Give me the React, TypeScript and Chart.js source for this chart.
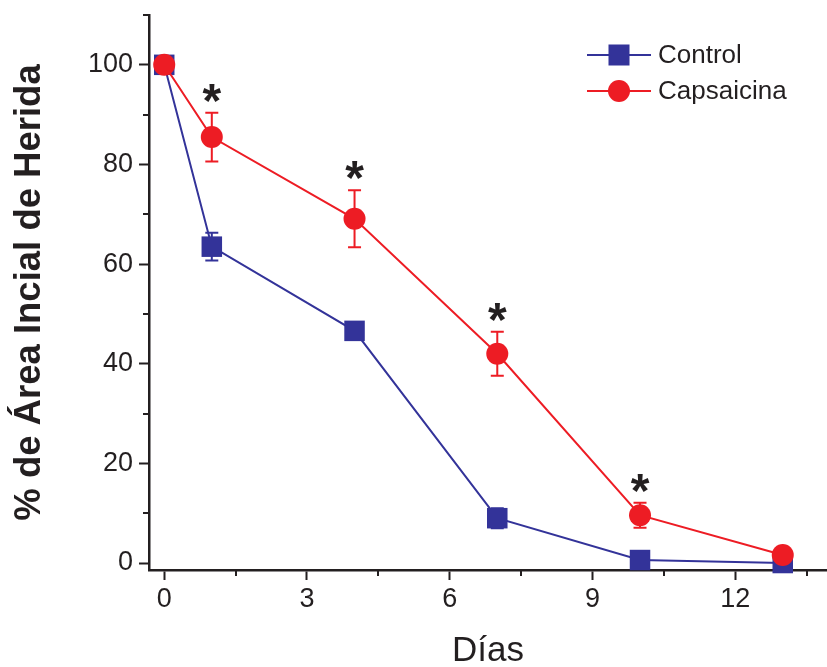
import React, { useEffect, useRef } from 'react';
import { Chart, registerables } from 'chart.js';

Chart.register(...registerables);

// ---- data ----
const days = [0, 1, 4, 7, 10, 13];
const controlValues = [100, 63.5, 46.6, 9.0, 0.6, 0];
const controlErrors = [0, 2.8, 1.2, 2.0, 0.6, 0.3];
const capsaicinaValues = [100, 85.5, 69.1, 42.0, 9.6, 1.6];
const capsaicinaErrors = [0, 4.9, 5.7, 4.4, 2.5, 0.6];
const significant = [false, true, true, true, true, false];
const xMajorTicks = [0, 3, 6, 9, 12];
const xMinorTicks = [1.5, 4.5, 7.5, 10.5, 13.5];
const yMajorTicks = [0, 20, 40, 60, 80, 100];
const yMinorTicks = [10, 30, 50, 70, 90, 110];
const seriesNames = ['Control', 'Capsaicina'];

const BLUE = '#333399';
const RED = '#ED1C24';
const INK = '#231F20';
const FONT = "'Liberation Sans', Arial, sans-serif";

const errorBarPlugin = {
  id: 'errorBars',
  beforeDatasetsDraw(chart: any) {
    const ctx = chart.ctx;
    const xs = chart.scales.x;
    const ys = chart.scales.y;
    const sets = [
      { vals: controlValues, errs: controlErrors, color: BLUE },
      { vals: capsaicinaValues, errs: capsaicinaErrors, color: RED },
    ];
    ctx.save();
    ctx.lineWidth = 2;
    sets.forEach((s) => {
      ctx.strokeStyle = s.color;
      days.forEach((d, i) => {
        const e = s.errs[i];
        if (!e) return;
        const x = xs.getPixelForValue(d);
        const yt = ys.getPixelForValue(s.vals[i] + e);
        const yb = ys.getPixelForValue(s.vals[i] - e);
        ctx.beginPath();
        ctx.moveTo(x, yt);
        ctx.lineTo(x, yb);
        ctx.moveTo(x - 6.5, yt);
        ctx.lineTo(x + 6.5, yt);
        ctx.moveTo(x - 6.5, yb);
        ctx.lineTo(x + 6.5, yb);
        ctx.stroke();
      });
    });
    ctx.restore();
  },
  afterDatasetsDraw(chart: any) {
    const ctx = chart.ctx;
    const xs = chart.scales.x;
    const ys = chart.scales.y;
    ctx.save();
    ctx.fillStyle = INK;
    ctx.font = `bold 48px ${FONT}`;
    ctx.textAlign = 'center';
    ctx.textBaseline = 'alphabetic';
    const m = ctx.measureText('*');
    const asc = m.actualBoundingBoxAscent;
    const desc = m.actualBoundingBoxDescent;
    days.forEach((d, i) => {
      if (!significant[i]) return;
      const x = xs.getPixelForValue(d);
      const top = ys.getPixelForValue(capsaicinaValues[i] + capsaicinaErrors[i]);
      const cy = top - 20;
      const baseline = cy + (asc - desc) / 2;
      ctx.fillText('*', x, baseline);
    });
    ctx.restore();
  },
  afterDraw(chart: any) {
    const ctx = chart.ctx;
    const xs = chart.scales.x;
    const ys = chart.scales.y;
    const area = chart.chartArea;
    ctx.save();
    // minor ticks
    ctx.strokeStyle = INK;
    ctx.lineWidth = 2;
    ctx.beginPath();
    yMinorTicks.forEach((v) => {
      const y = Math.round(ys.getPixelForValue(v));
      ctx.moveTo(area.left - 6, y);
      ctx.lineTo(area.left, y);
    });
    xMinorTicks.forEach((v) => {
      const x = Math.round(xs.getPixelForValue(v));
      ctx.moveTo(x, area.bottom);
      ctx.lineTo(x, area.bottom + 6);
    });
    ctx.stroke();

    // legend
    const lx1 = area.right - 240;
    const lx2 = area.right - 176;
    const mx = area.right - 208;
    const tx = area.right - 169;
    const rows = [
      { y: area.top + 40, color: BLUE, shape: 'rect' },
      { y: area.top + 76, color: RED, shape: 'circle' },
    ];
    rows.forEach((r, i) => {
      ctx.strokeStyle = r.color;
      ctx.lineWidth = 2;
      ctx.beginPath();
      ctx.moveTo(lx1, r.y);
      ctx.lineTo(lx2, r.y);
      ctx.stroke();
      ctx.fillStyle = r.color;
      if (r.shape === 'rect') {
        ctx.fillRect(mx - 10.5, r.y - 10.5, 21, 21);
      } else {
        ctx.beginPath();
        ctx.arc(mx, r.y, 11, 0, Math.PI * 2);
        ctx.fill();
      }
      ctx.fillStyle = INK;
      ctx.font = `26px ${FONT}`;
      ctx.textAlign = 'left';
      ctx.textBaseline = 'middle';
      ctx.fillText(seriesNames[i], tx, r.y + 1);
    });
    ctx.restore();
  },
};

const zeroPadding = (s: any) => {
  s.paddingTop = 0;
  s.paddingBottom = 0;
  s.paddingLeft = 0;
  s.paddingRight = 0;
};

export default function App() {
  const ref = useRef<HTMLCanvasElement | null>(null);

  useEffect(() => {
    if (!ref.current) return;
    const chart = new Chart(ref.current, {
      type: 'line',
      data: {
        datasets: [
          {
            label: seriesNames[0],
            data: days.map((d, i) => ({ x: d, y: controlValues[i] })),
            borderColor: BLUE,
            backgroundColor: BLUE,
            borderWidth: 2,
            pointStyle: 'rect',
            pointRadius: 14.5,
            pointBorderWidth: 0,
            pointBackgroundColor: BLUE,
            clip: false,
            order: 1,
          },
          {
            label: seriesNames[1],
            data: days.map((d, i) => ({ x: d, y: capsaicinaValues[i] })),
            borderColor: RED,
            backgroundColor: RED,
            borderWidth: 2,
            pointStyle: 'circle',
            pointRadius: 11,
            pointBorderWidth: 0,
            pointBackgroundColor: RED,
            clip: false,
            order: 0,
          },
        ],
      },
      options: {
        animation: false,
        responsive: false,
        layout: { autoPadding: false, padding: { top: 15, right: 0, left: 0, bottom: 0 } },
        plugins: {
          legend: { display: false },
          tooltip: { enabled: false },
        },
        scales: {
          x: {
            type: 'linear',
            min: -0.32,
            max: 13.93,
            afterBuildTicks: (s: any) => {
              s.ticks = xMajorTicks.map((v) => ({ value: v }));
            },
            afterFit: (s: any) => {
              s.height = 97;
              zeroPadding(s);
            },
            grid: {
              drawOnChartArea: false,
              drawTicks: true,
              tickLength: 10,
              tickWidth: 2,
              tickColor: INK,
            },
            border: { display: true, color: INK, width: 2.5 },
            ticks: {
              color: INK,
              font: { family: FONT, size: 27, lineHeight: 1 },
              padding: 6,
              maxRotation: 0,
              callback: (v: any) => String(v),
            },
            title: {
              display: true,
              text: 'Días',
              color: INK,
              font: { family: FONT, size: 35, lineHeight: 0.9 },
              padding: { top: 0, bottom: 0 },
            },
          },
          y: {
            type: 'linear',
            min: -1.4,
            max: 110,
            afterBuildTicks: (s: any) => {
              s.ticks = yMajorTicks.map((v) => ({ value: v }));
            },
            afterFit: (s: any) => {
              s.width = 149;
              zeroPadding(s);
            },
            grid: {
              drawOnChartArea: false,
              drawTicks: true,
              tickLength: 10,
              tickWidth: 2,
              tickColor: INK,
            },
            border: { display: true, color: INK, width: 2.5 },
            ticks: {
              color: INK,
              font: { family: FONT, size: 27, lineHeight: 1 },
              padding: 6,
              callback: (v: any) => String(v),
            },
            title: {
              display: true,
              text: '% de Área Incial de Herida',
              color: INK,
              font: { family: FONT, size: 36.5, weight: 'bold', lineHeight: 1 },
              padding: { top: 12, bottom: 0 },
            },
          },
        },
      },
      plugins: [errorBarPlugin],
    } as any);
    return () => chart.destroy();
  }, []);

  return (
    <div style={{ position: 'fixed', left: 0, top: 0, width: 827, height: 667, background: '#fff' }}>
      <canvas ref={ref} width={827} height={667} style={{ display: 'block' }} />
    </div>
  );
}
